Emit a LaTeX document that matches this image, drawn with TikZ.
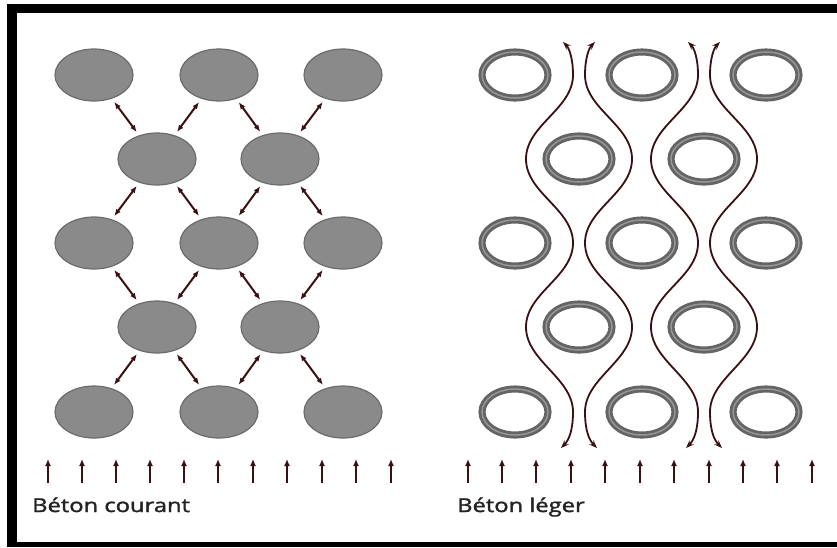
\documentclass[tikz,border=0pt]{standalone}
\usepackage{fontspec}
\setmainfont{Open Sans}
\newfontfamily\labelfont[FakeBold=1.6]{Open Sans}
\usetikzlibrary{shapes.geometric,arrows.meta}
\definecolor{arr}{RGB}{58,16,20}
\definecolor{blobfill}{RGB}{138,138,138}
\definecolor{blobdraw}{RGB}{108,108,108}
\definecolor{ringdark}{RGB}{100,100,100}
\definecolor{ringlight}{RGB}{150,150,150}
\definecolor{txt}{RGB}{35,35,35}
\tikzset{
  blob/.style={ellipse, minimum width=78pt, minimum height=52pt, inner sep=0pt, fill=blobfill, draw=blobdraw, line width=1.2pt},
  ringnode/.style={ellipse, minimum width=66pt, minimum height=46pt, inner sep=0pt, draw=ringdark, line width=2.8pt, double=ringlight, double distance=1.5pt},
  link/.style={arr, line width=2pt, {Latex[length=7pt,width=5.5pt]}-{Latex[length=7pt,width=5.5pt]}, shorten <=4pt, shorten >=4pt},
  flow/.style={arr, line width=1.8pt, {Stealth[length=8pt,width=6pt]}-{Stealth[length=8pt,width=6pt]}},
  uparrow/.style={arr, line width=2pt, -{Latex[length=7pt,width=6pt]}},
  label/.style={anchor=base west, inner sep=0pt, text=txt, font=\labelfont\fontsize{19}{22}\selectfont}
}
\begin{document}
\begin{tikzpicture}[x=1pt,y=-1pt]
\useasboundingbox (0,0) rectangle (837,547);
\fill[white] (0,0) rectangle (837,547);
% frame
\fill[black] (7,4) rectangle (837,13);
\fill[black] (7,4) rectangle (17,547);
\fill[black] (7,542) rectangle (837,547);
% left panel ellipses
\foreach \r/\y in {1/75,3/243,5/412}
  \foreach \c/\x in {1/94,2/219,3/343}
    \node[blob] (L\r\c) at (\x,\y) {};
\foreach \r/\y in {2/159,4/327}
  \foreach \c/\x in {1/157,2/280}
    \node[blob] (L\r\c) at (\x,\y) {};
\foreach \a/\b in {1/2,3/2,3/4,5/4}
  \foreach \i/\j in {1/1,2/1,2/2,3/2}
    \draw[link] (L\a\i) -- (L\b\j);
% right panel rings
\foreach \r/\y in {1/75,3/243,5/412}
  \foreach \c/\x in {1/515,2/642,3/766}
    \node[ringnode] (R\r\c) at (\x,\y) {};
\foreach \r/\y in {2/159,4/327}
  \foreach \c/\x in {1/579,2/704}
    \node[ringnode] (R\r\c) at (\x,\y) {};
% flow lines
\foreach \c/\s in {579/1,579/-1,704/1,704/-1}
  \draw[flow] ({\c-\s*16},42) .. controls ({\c-\s*10},48) and ({\c-\s*6},58) .. ({\c-\s*6},75)
    .. controls ({\c-\s*6},109) and ({\c-\s*53},125) .. ({\c-\s*53},159)
    .. controls ({\c-\s*53},193) and ({\c-\s*6},209) .. ({\c-\s*6},243)
    .. controls ({\c-\s*6},277) and ({\c-\s*53},293) .. ({\c-\s*53},327)
    .. controls ({\c-\s*53},361) and ({\c-\s*6},378) .. ({\c-\s*6},412)
    .. controls ({\c-\s*6},430) and ({\c-\s*10},440) .. ({\c-\s*18},448);
% bottom arrows
\foreach \x in {48,82,116,150,184,218,253,287,322,356,391}
  \draw[uparrow] (\x,483) -- (\x,459);
\foreach \x in {468,502,536,571,605,640,674,709,743,777,812}
  \draw[uparrow] (\x,483) -- (\x,459);
% labels
\node[label] (t1) at (32,512) {\scalebox{1.25}[1]{Béton courant}};
\node[label] (t2) at (457,512) {\scalebox{1.25}[1]{Béton léger}};
\end{tikzpicture}
\end{document}
